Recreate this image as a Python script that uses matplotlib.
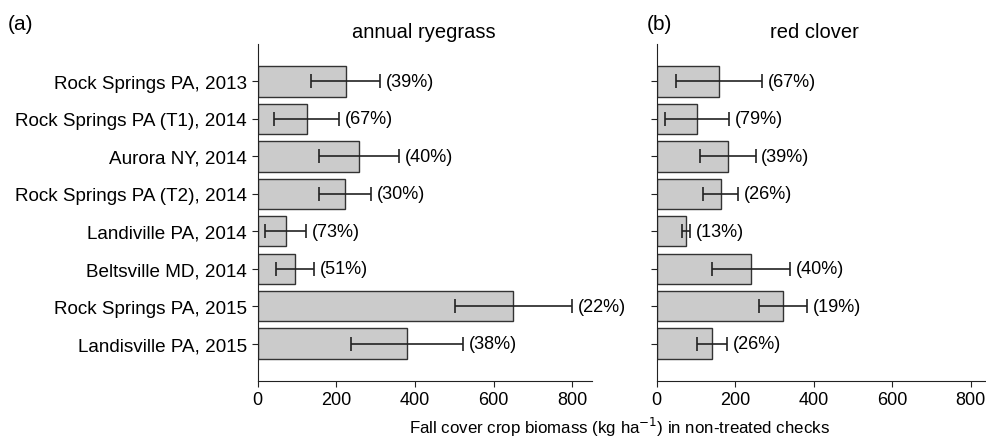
import matplotlib.pyplot as plt
import numpy as np

plt.rcParams['font.family'] = ['Liberation Sans', 'DejaVu Sans']

sites = ["Rock Springs PA, 2013", "Rock Springs PA (T1), 2014", "Aurora NY, 2014",
         "Rock Springs PA (T2), 2014", "Landiville PA, 2014", "Beltsville MD, 2014",
         "Rock Springs PA, 2015", "Landisville PA, 2015"]

rye_mean = [224, 125, 258, 222, 72, 95, 650, 380]
rye_err = [87, 83, 102, 67, 52, 49, 149, 143]
rye_cv = ["(39%)", "(67%)", "(40%)", "(30%)", "(73%)", "(51%)", "(22%)", "(38%)"]

clover_mean = [159, 102, 181, 163, 75, 241, 322, 141]
clover_err = [109, 82, 71, 44, 10, 100, 62, 38]
clover_cv = ["(67%)", "(79%)", "(39%)", "(26%)", "(13%)", "(40%)", "(19%)", "(26%)"]

fig = plt.figure(figsize=(9.87, 4.39), dpi=100)
ax1 = fig.add_axes([0.2609, 0.1298, 0.339, 0.7677])
ax2 = fig.add_axes([0.6653, 0.1298, 0.334, 0.7677])

y = np.arange(len(sites))
for ax, mean, err, cv, title, xmax, cx in [
        (ax1, rye_mean, rye_err, rye_cv, "annual ryegrass", 850, 424),
        (ax2, clover_mean, clover_err, clover_cv, "red clover", 840, 814)]:
    ax.barh(y, mean, height=0.81, color="#cbcbcb", edgecolor="#333333", linewidth=1.0)
    ax.errorbar(mean, y, xerr=err, fmt="none", ecolor="#222222", elinewidth=1.2,
                capsize=5, capthick=1.2)
    for yi, m, e, t in zip(y, mean, err, cv):
        ax.annotate(t, (m + e, yi), xytext=(4, 0), textcoords="offset points",
                    va="center", ha="left", fontsize=13)
    ax.set_xlim(0, xmax)
    ax.set_ylim(len(sites), -1)
    ax.set_xticks([0, 200, 400, 600, 800])
    ax.set_yticks(y)
    ax.spines["top"].set_visible(False)
    ax.spines["right"].set_visible(False)
    ax.spines["left"].set_color("#222222")
    ax.spines["bottom"].set_color("#222222")
    ax.tick_params(axis="both", labelsize=13, color="#222222", length=4)
    fig.text(cx / 987, 1 - 38 / 439, title, ha="center", va="baseline", fontsize=14.5)

ax1.set_yticklabels(sites, fontsize=13.6)
ax2.set_yticklabels([])

fig.text(8 / 987, 1 - 24 / 439, "(a)", fontsize=15, va="center", ha="left")
fig.text(647 / 987, 1 - 24 / 439, "(b)", fontsize=15, va="center", ha="left")
fig.text(619 / 987, 1 - 434 / 439, "Fall cover crop biomass (kg ha$^{-1}$) in non-treated checks",
         fontsize=12.2, ha="center", va="baseline")

fig.savefig("out.png", dpi=100)
